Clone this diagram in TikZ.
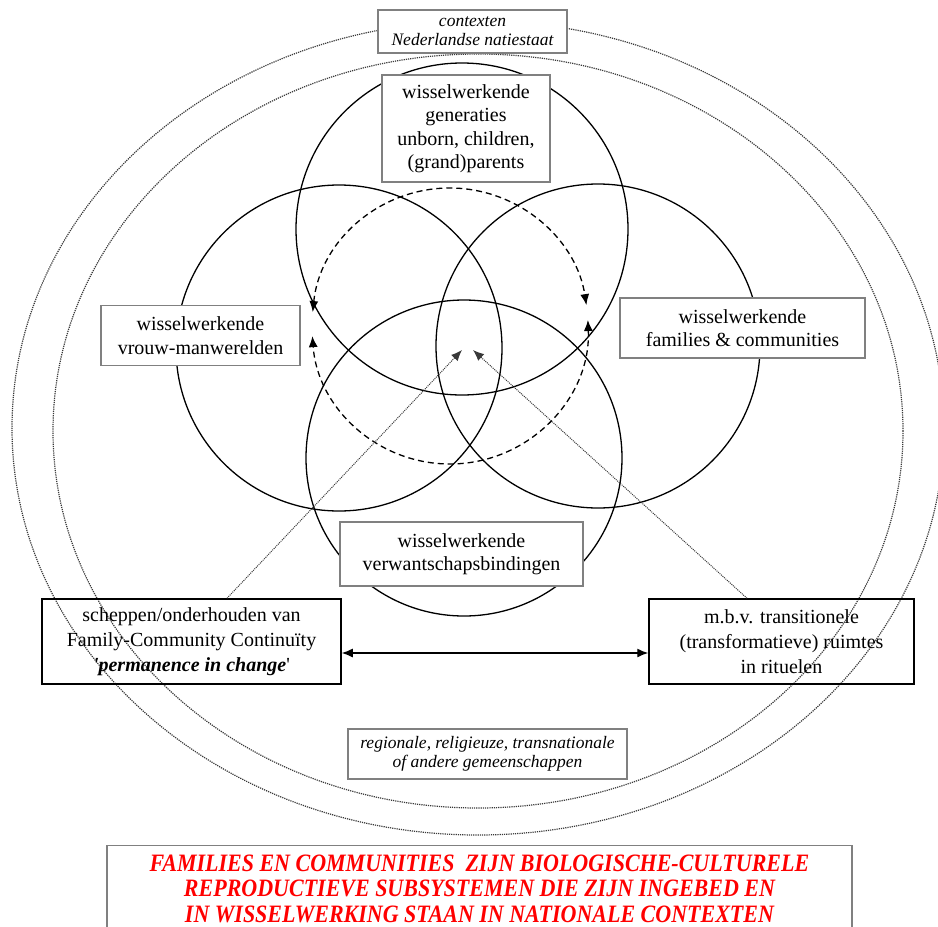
\documentclass[tikz,border=0pt]{standalone}
\usepackage{fontspec}
\setmainfont{Liberation Serif}
\newfontfamily\redfont{Liberation Serif}[FakeStretch=0.88]
\usetikzlibrary{arrows.meta}

\tikzset{
  wbox/.style={draw=gray, line width=1.2pt, fill=white, align=center, inner sep=0pt,
    font=\fontsize{20}{23.5}\selectfont},
  ctxbox/.style={wbox, font=\fontsize{17.5}{19}\selectfont\itshape},
  mainbox/.style={draw=black, line width=1.5pt, align=center, inner sep=0pt,
    font=\fontsize{20}{25}\selectfont},
  ring/.style={line width=1.3pt},
  context/.style={gray!45!black, line width=1.2pt, densely dotted},
  loopline/.style={line width=1.3pt, dash pattern=on 6pt off 4pt,
    {Latex[length=11pt,width=9pt]}-{Latex[length=11pt,width=9pt]}},
  pointer/.style={gray!45!black, line width=1pt, densely dotted,
    -{Latex[length=11pt,width=9pt]}},
  link/.style={line width=1.3pt,
    {Latex[length=11pt,width=9pt]}-{Latex[length=11pt,width=9pt]}}
}

\begin{document}
\begin{tikzpicture}
    \def\x{1pt}
    \def\y{-1pt}
    \useasboundingbox (0,0) rectangle (938*\x, 927*\y);
    % contexten
    \draw[context] (478*\x, 428*\y) ellipse ({466*\x} and {407*\x});
    \draw[context] (478*\x, 431*\y) ellipse ({425*\x} and {377*\x});
    % wisselwerkende cirkels
    \draw[ring] (462*\x, 229*\y) circle (166*\x);
    \draw[ring] (339*\x, 348*\y) circle (163*\x);
    \draw[ring] (598*\x, 346*\y) circle (162*\x);
    \draw[ring] (464*\x, 458*\y) circle (158*\x);
    % kringloop
    \coordinate (M) at (450*\x, 326*\y);
    \draw[loopline] (M) ++(174.2:138*\x) arc[start angle=174.2, end angle=8.7, radius=138*\x];
    \draw[loopline] (M) ++(2.5:138*\x) arc[start angle=2.5, end angle=-175.8, radius=138*\x];
    \coordinate (C_l) at (462*\x, 350*\y);
    \coordinate (C_r) at (473*\x, 350*\y);
    % labels
    \node[ctxbox, minimum width=189pt, minimum height=43pt] (A0_1) at (472.5*\x, 31.5*\y) {contexten\\Nederlandse natiestaat};
    \node[wbox, minimum width=168pt, minimum height=107pt] (A1_1) at (466*\x, 128.5*\y) {wisselwerkende\\generaties\\unborn, children,\\(grand)parents};
    \node[wbox, minimum width=199pt, minimum height=60pt] (A2_0) at (200.5*\x, 335.5*\y) {wisselwerkende\\vrouw-manwerelden};
    \node[wbox, minimum width=245pt, minimum height=60pt] (A2_2) at (742.5*\x, 328*\y) {wisselwerkende\\families \& communities};
    \node[wbox, minimum width=243pt, minimum height=64pt] (A3_1) at (461.5*\x, 554*\y) {wisselwerkende\\verwantschapsbindingen};
    \node[mainbox, minimum width=299pt, minimum height=85pt] (A4_0) at (191.5*\x, 641.5*\y) {scheppen/onderhouden van\\Family-Community Continuïty\\\textbf{\textit{\textquotesingle permanence in change}}\textquotesingle};
    \node[mainbox, minimum width=265pt, minimum height=85pt] (A4_2) at (781.5*\x, 641.5*\y) {m.b.v. transitionele\\(transformatieve) ruimtes\\in rituelen};
    \node[ctxbox, minimum width=279pt, minimum height=50pt] (A5_1) at (487.5*\x, 754*\y) {regionale, religieuze, transnationale\\of andere gemeenschappen};
    \node[wbox, anchor=north, minimum width=745pt, minimum height=86pt, text=red,
      font={\redfont\fontsize{25}{25.5}\selectfont\bfseries\itshape}] (A6_1) at (479.5*\x, 845*\y)
      {FAMILIES EN COMMUNITIES\ \ ZIJN BIOLOGISCHE-CULTURELE\\REPRODUCTIEVE SUBSYSTEMEN DIE ZIJN INGEBED EN\\IN WISSELWERKING STAAN IN NATIONALE CONTEXTEN};
    % verbindingen
    \draw[pointer] ([xshift=35.5pt]A4_0.north) -- (C_l);
    \draw[pointer] ([xshift=-34.5pt]A4_2.north) -- (C_r);
    \draw[link] ([yshift=-11.5pt]A4_0.east) -- ([yshift=-11.5pt]A4_2.west);
\end{tikzpicture}
\end{document}
